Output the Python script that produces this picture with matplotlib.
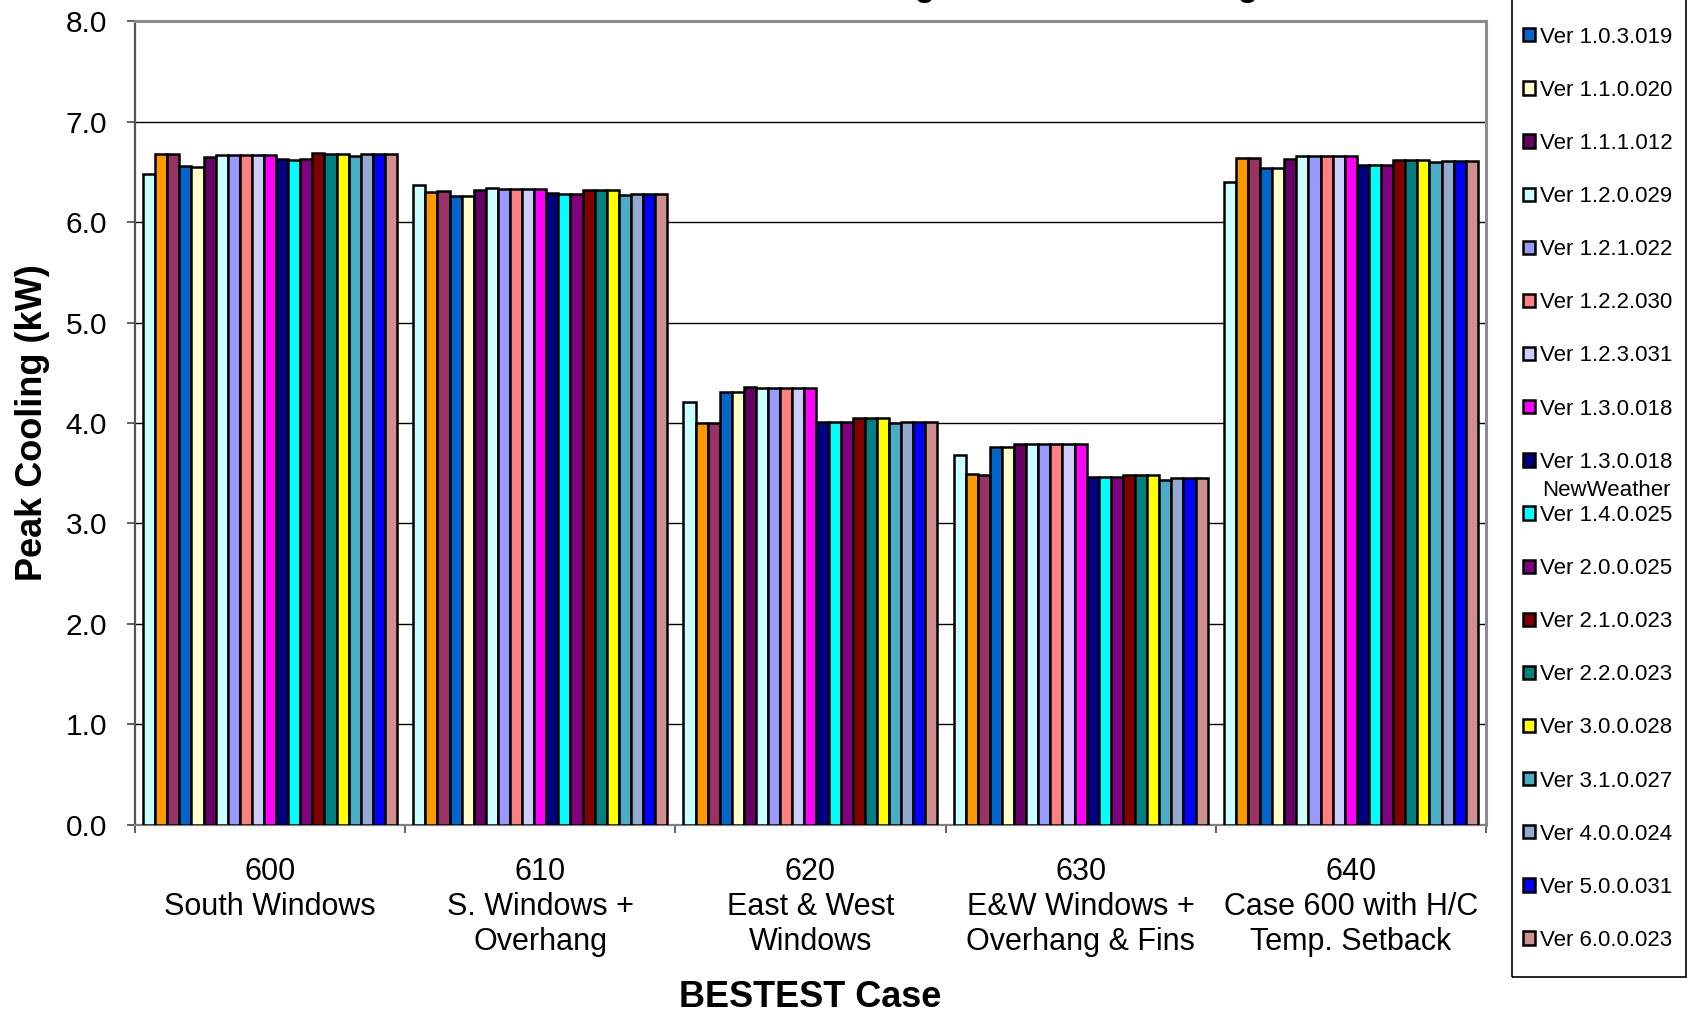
import numpy as np
import matplotlib
matplotlib.use("Agg")
import matplotlib.pyplot as plt
from matplotlib.patches import Rectangle
from matplotlib.text import Annotation

plt.rcParams['font.family'] = ['Liberation Sans', 'DejaVu Sans']

cases = ["600\nSouth Windows", "610\nS. Windows +\nOverhang", "620\nEast & West\nWindows",
         "630\nE&W Windows +\nOverhang & Fins", "640\nCase 600 with H/C\nTemp. Setback"]

versions = ["Ver 1.0.0.023", "Ver 1.0.1.032", "Ver 1.0.2.008",
            "Ver 1.0.3.019", "Ver 1.1.0.020", "Ver 1.1.1.012", "Ver 1.2.0.029",
            "Ver 1.2.1.022", "Ver 1.2.2.030", "Ver 1.2.3.031", "Ver 1.3.0.018",
            "Ver 1.3.0.018\nNewWeather", "Ver 1.4.0.025", "Ver 2.0.0.025",
            "Ver 2.1.0.023", "Ver 2.2.0.023", "Ver 3.0.0.028", "Ver 3.1.0.027",
            "Ver 4.0.0.024", "Ver 5.0.0.031", "Ver 6.0.0.023"]

colors = ["#CCFFFF", "#FF9900", "#993366", "#0066CC", "#FFFFCC", "#660066", "#CCFFFF",
          "#9999FF", "#FF8080", "#CCCCFF", "#FF00FF", "#000080", "#00FFFF", "#800080",
          "#800000", "#008080", "#FFFF00", "#4BACC6", "#93A9CF", "#0000FF", "#D09090"]

# peak cooling (kW), one list per case, in version order
case600 = [6.48, 6.68, 6.68, 6.56, 6.55, 6.65, 6.67, 6.67, 6.67, 6.67, 6.67,
           6.63, 6.62, 6.63, 6.69, 6.68, 6.68, 6.66, 6.68, 6.68, 6.68]
case610 = [6.37, 6.30, 6.31, 6.26, 6.26, 6.32, 6.34, 6.33, 6.33, 6.33, 6.33,
           6.29, 6.28, 6.28, 6.32, 6.32, 6.32, 6.27, 6.28, 6.28, 6.28]
case620 = [4.21, 4.00, 4.00, 4.31, 4.31, 4.36, 4.35, 4.35, 4.35, 4.35, 4.35,
           4.01, 4.01, 4.01, 4.05, 4.05, 4.05, 4.00, 4.01, 4.01, 4.01]
case630 = [3.68, 3.49, 3.48, 3.76, 3.76, 3.79, 3.79, 3.79, 3.79, 3.79, 3.79,
           3.46, 3.46, 3.46, 3.48, 3.48, 3.48, 3.43, 3.45, 3.45, 3.45]
case640 = [6.40, 6.64, 6.64, 6.54, 6.54, 6.63, 6.66, 6.66, 6.66, 6.66, 6.66,
           6.57, 6.57, 6.57, 6.62, 6.62, 6.62, 6.60, 6.61, 6.61, 6.61]

values = np.array([case600, case610, case620, case630, case640])

fig = plt.figure(figsize=(16.87, 10.15), dpi=100)
ax = fig.add_axes([0.0800, 0.1872, 0.8008, 0.7921])

n = len(versions)
group_w = 0.94
bw = group_w / n
x = np.arange(len(cases))
bars = []
for i in range(n):
    b = ax.bar(x - group_w / 2 + bw * (i + 0.5), values[:, i], width=bw,
               color=colors[i], edgecolor='black', linewidth=1.8, label=versions[i], zorder=3)
    bars.append(b)

ax.set_xlim(-0.5, len(cases) - 0.5)
ax.set_ylim(0, 8)
ax.set_yticks(np.arange(0, 9, 1))
ax.set_yticklabels([f"{v:.1f}" for v in np.arange(0, 9, 1)])
ax.yaxis.grid(True, color='black', linewidth=1.0, zorder=0)
ax.set_axisbelow(True)

ax.set_xticks(x)
ax.set_xticklabels(cases, linespacing=1.22)
ax.set_xticks(np.arange(-0.5, len(cases), 1), minor=True)
ax.tick_params(axis='x', which='major', length=0, pad=23, labelsize=22)
ax.tick_params(axis='x', which='minor', length=6, width=1.3, color='#555555', direction='out')
ax.tick_params(axis='y', length=6, width=1.3, color='#555555', direction='out', pad=14, labelsize=21.5)

for s in ['top', 'right']:
    ax.spines[s].set_color('#8C8C8C')
    ax.spines[s].set_linewidth(2.2)
ax.spines['left'].set_color('#555555')
ax.spines['left'].set_linewidth(1.6)
ax.spines['bottom'].set_color('#808080')
ax.spines['bottom'].set_linewidth(1.6)

ax.set_ylabel("Peak Cooling (kW)", fontsize=26, fontweight='bold', labelpad=11)
ax.set_xlabel("BESTEST Case", fontsize=26, fontweight='bold', labelpad=16.5)

fig.text(0.5886, 1.004, "Peak Cooling - Low Mass Building", ha='center', va='baseline',
         fontsize=23.4, fontweight='bold')

# legend rows keep an even pitch; the second line of the NewWeather entry hangs below its row
leg_labels = [v.split("\n")[0] for v in versions]
leg = fig.legend(handles=bars, labels=leg_labels, loc='lower left',
                 bbox_to_anchor=(0.9028, 0.0631), frameon=False, fontsize=16,
                 handlelength=0.54, handleheight=0.54, handletextpad=0.23,
                 labelspacing=1.446, borderpad=0, borderaxespad=0)
for i, v in enumerate(versions):
    if "\n" in v:
        extra = Annotation(v.split("\n")[1], xy=(0.5, 0), xycoords=leg.get_texts()[i],
                           xytext=(0, -5.5), textcoords='offset points',
                           ha='center', va='top', fontsize=16, zorder=6)
        fig.add_artist(extra)
fig.add_artist(Rectangle((1512 / 1687, 1 - 977 / 1015), (1686 - 1512) / 1687, 1.0,
                         transform=fig.transFigure, fill=False, edgecolor='black',
                         linewidth=1.2, clip_on=False))

fig.savefig("out.png", dpi=100)
